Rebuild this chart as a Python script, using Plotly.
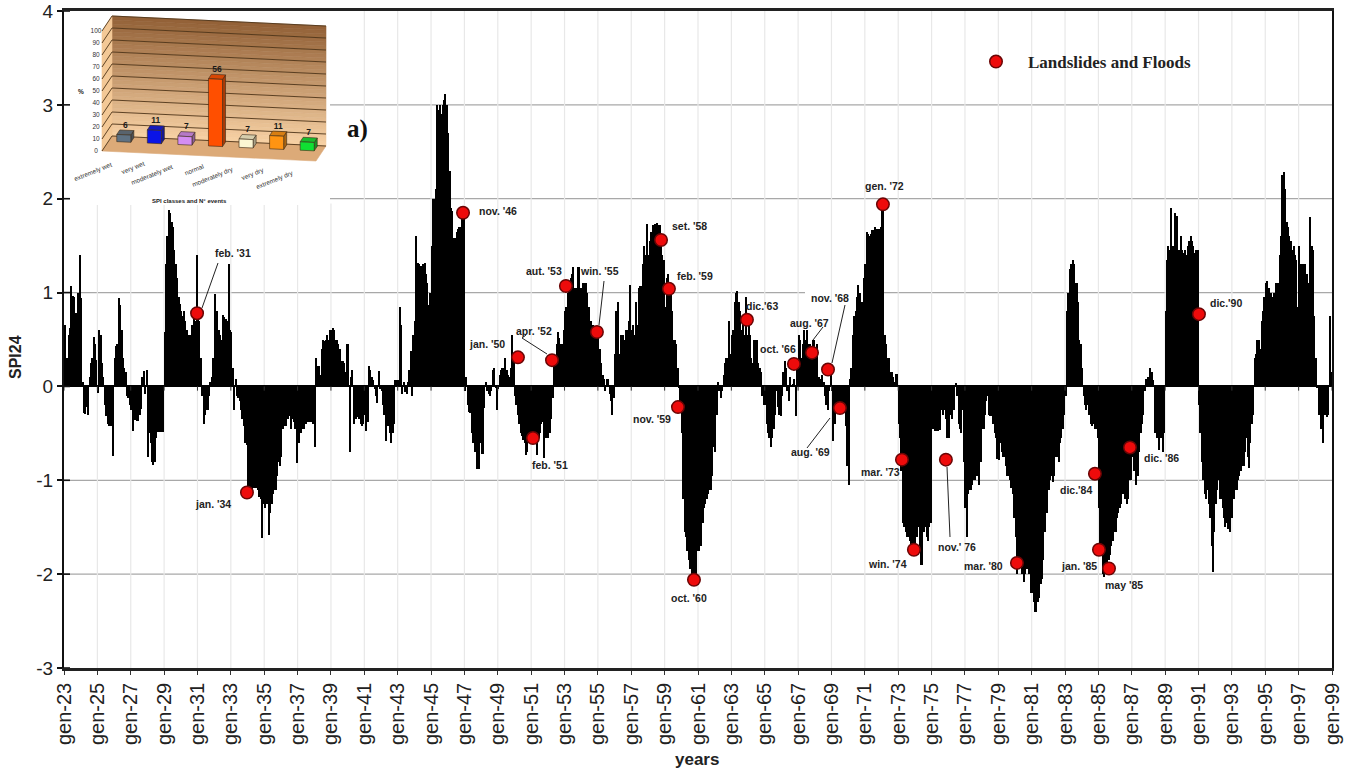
import plotly.graph_objects as go

# ---------- monthly SPI24 values ----------
spi_1923 = [.65,.18,.3,.55,.62,1.07,.96,.95,.78,.78,1.0,1.4]
spi_1924 = [.94,.05,-.28,-.29,-.22,-.3,.1,.25,.3,.53,.45,.28]
spi_1925 = [-.07,.6,.55,.25,.1,-.2,-.32,-.4,-.42,-.42,-.42,-.74]
spi_1926 = [.3,.43,.45,.94,.87,.6,.3,.2,.15,-.1,-.12,-.2]
spi_1927 = [-.25,-.47,-.33,-.36,-.37,-.37,-.3,-.24,.1,.16,-.08,.18]
spi_1928 = [-.75,-.5,-.6,-.8,-.84,-.8,-.55,-.49,-.49,-.49,-.49,-.49]
spi_1929 = [.58,1.3,1.6,1.88,1.85,1.75,1.7,1.45,1.3,1.15,.95,.88]
spi_1930 = [.8,.75,.8,.7,.6,.55,.55,.55,.65,.75,.7,1.4]
spi_1931 = [.75,.7,.3,-.1,-.4,-.3,-.25,-.25,-.1,.05,.1,.3]
spi_1932 = [.98,.8,.8,.6,.55,.5,.76,.74,.72,.7,1.3,.6]
spi_1933 = [.58,.2,-.25,.08,-.1,-.12,-.15,-.25,-.35,-.42,-.6,-.62]
spi_1934 = [-1.1,-1.14,-1.13,-1.1,-1.08,-1.08,-1.08,-1.1,-1.18,-1.2,-1.62,-1.25]
spi_1935 = [-1.3,-1.25,-1.25,-1.58,-1.35,-1.25,-1.15,-1.1,-1.1,-.95,-.8,-.85]
spi_1936 = [-.75,-.45,-.42,-.42,-.15,-.35,-.32,-.45,-.35,-.38,-.45,-.82]
spi_1937 = [-.6,-.6,-.5,-.45,-.45,-.4,-.4,-.38,-.38,-.38,-.38,-.4]
spi_1938 = [-.64,.3,.22,.22,.12,.4,.5,.48,.5,.55,.5,.6]
spi_1939 = [.6,.62,.6,.5,.5,.45,.4,.27,.27,.25,.15,.45]
spi_1940 = [.45,-.7,.1,.18,-.4,-.35,-.35,-.33,-.35,-.4,-.42,-.4]
spi_1941 = [-.3,-.47,-.38,.22,.18,.1,.07,-.03,-.1,-.18,.16,-.03]
spi_1942 = [-.05,-.2,-.3,-.58,-.4,-.42,-.5,-.6,-.5,-.4,.07,.07]
spi_1943 = [.07,.85,.65,-.08,.05,-.06,-.08,.05,.17,.38,-.1,.55]
spi_1944 = [.7,1.6,1.32,1.3,1.28,1.28,1.3,1.32,1.2,1.1,.87,1.0]
spi_1945 = [1.5,2.0,2.0,2.1,3.0,2.95,3.0,2.9,3.0,3.05,3.12,3.0]
spi_1946 = [2.7,2.3,1.9,1.87,1.58,1.58,1.65,1.68,1.7,1.7,1.85,1.8]
spi_1947 = [-.05,.1,-.2,-.27,-.28,-.5,-.6,-.7,-.55,-.88,-.88,-.6]
spi_1948 = [-.72,-.72,-.23,.05,-.05,-.08,-.1,-.05,.18,.2,-.02,-.25]
spi_1949 = [-.03,.12,.18,.2,.2,.3,.17,.12,.1,.2,.55,.35]
spi_1950 = [-.1,-.2,-.3,-.4,-.5,-.53,-.57,-.6,-.73,-.7,-.55,-.58]
spi_1951 = [-.55,-.58,-.56,-.6,-.73,-.55,-.5,-.4,-.38,-.76,-.55,-.55]
spi_1952 = [-.55,-.5,-.35,-.12,.28,.28,.45,.58,.52,.45,.45,.6]
spi_1953 = [.8,.85,1.0,1.06,1.15,1.2,1.27,1.05,1.05,1.27,1.27,1.05]
spi_1954 = [1.05,1.1,1.1,1.1,1.0,.85,.7,.7,.65,.6,.6,.58]
spi_1955 = [.55,.4,.25,.12,.08,-.05,.08,.08,-.08,-.15,-.3,-.12]
spi_1956 = [.35,.8,.9,.35,.55,.55,.55,.5,.6,.6,.7,1.08]
spi_1957 = [.6,.65,.55,.9,.65,1.05,1.07,1.07,1.3,1.5,1.4,1.73]
spi_1958 = [1.4,1.55,1.65,1.72,1.72,1.73,1.74,1.72,1.72,1.55,1.4,1.35]
spi_1959 = [.85,1.15,1.2,1.05,1.0,.8,.5,.5,.45,.2,-.02,-.22]
spi_1960 = [-.5,-1.2,-1.55,-1.6,-1.75,-1.85,-1.95,-2.0,-2.05,-2.06,-2.05,-1.75]
spi_1961 = [-1.75,-1.65,-1.7,-1.45,-1.3,-1.25,-1.2,-1.15,-1.1,-1.1,-.95,-.65]
spi_1962 = [-.7,-.3,.05,-.05,-.12,-.05,.12,.25,.3,.3,.7,.35]
spi_1963 = [.55,.6,.9,1.0,1.02,.9,.8,.6,.65,.55,.95,.55]
spi_1964 = [.7,.55,.3,.25,.5,.5,.5,.25,.2,.15,-.1,-.2]
spi_1965 = [-.2,-.4,-.5,-.55,-.65,-.55,-.45,-.3,-.05,-.22,-.3,-.32]
spi_1966 = [-.1,.15,.27,.2,-.05,-.15,.1,.02,.03,.08,-.32,.24]
spi_1967 = [.55,.5,.3,.45,.6,.5,.6,.45,.45,.35,.5,.5]
spi_1968 = [.35,.45,.1,.1,.08,.12,.05,-.1,-.2,-.25,-.05,.18]
spi_1969 = [-.05,-.58,-.4,-.2,-.2,-.22,-.22,-.22,-.22,-.25,-.42,-.85]
spi_1970 = [-1.05,.08,.2,.55,.75,.8,.95,1.08,1.0,.9,.9,1.15]
spi_1971 = [1.3,1.65,1.62,1.6,1.62,1.67,1.67,1.7,1.68,1.68,1.68,1.7]
spi_1972 = [1.95,1.95,.55,.45,.3,.3,.15,.15,.1,.05,.13,.13]
spi_1973 = [-.4,-.55,-.9,-1.45,-1.5,-1.55,-1.6,-1.6,-1.65,-1.7,-1.75,-1.75]
spi_1974 = [-1.75,-1.6,-1.5,-1.7,-1.9,-1.9,-1.55,-1.5,-1.6,-1.65,-1.5,-1.45]
spi_1975 = [-.2,-.45,-.47,-.47,-.47,-.43,-.46,-.25,-.3,-.25,-.35,-.55]
spi_1976 = [-.55,-.3,-.35,-.2,-.25,.04,-.1,-.4,-.45,-.5,-.25,-.8]
spi_1977 = [-1.3,-1.6,-1.15,-1.1,-1.1,-1.05,-1.0,-1.0,-.95,-.9,-1.05,-.8]
spi_1978 = [-.45,-.45,-.3,-.15,-.1,-.3,-.32,-.32,-.4,-.5,-.55,-.77]
spi_1979 = [-.78,-.6,-.7,-.75,-.75,-.85,-.95,-.95,-1.0,-1.08,-1.15,-1.4]
spi_1980 = [-1.6,-2.0,-1.9,-1.9,-1.9,-2.0,-2.08,-2.0,-1.95,-1.9,-2.0,-2.2]
spi_1981 = [-2.2,-2.3,-2.4,-2.4,-2.3,-2.25,-2.1,-2.05,-1.85,-1.55,-1.35,-1.35]
spi_1982 = [-1.1,-1.0,-.95,-1.02,-.95,-.75,-.75,-.8,-.6,-.55,-.45,-.3]
spi_1983 = [-.1,.8,1.0,1.25,1.3,1.35,1.3,1.1,1.1,.9,.5,.45]
spi_1984 = [.2,-.1,-.2,-.25,-.2,-.3,-.4,-.42,-.4,-.45,-.45,-.55]
spi_1985 = [-1.3,-1.75,-1.8,-2.0,-2.03,-1.97,-1.9,-1.85,-1.8,-1.7,-1.65,-1.55]
spi_1986 = [-1.55,-1.4,-1.35,-1.3,-1.25,-1.15,-1.0,-1.2,-1.25,-1.2,-1.0,-1.0]
spi_1987 = [-.75,-.9,-.9,-1.05,-.95,-.7,-.5,-.4,-.3,-.05,.08,.1]
spi_1988 = [.03,.2,.15,.07,-.5,-.45,-.55,-.68,-.4,-.55,-.7,-.5]
spi_1989 = [.8,1.35,1.5,1.45,1.9,1.5,1.45,1.85,1.82,1.45,1.45,1.6]
spi_1990 = [1.45,1.42,1.45,1.4,1.5,1.55,1.6,1.55,1.5,1.42,1.45,1.45]
spi_1991 = [-.2,-.5,-.8,-1.0,-1.15,-1.2,-1.1,-1.25,-1.4,-1.7,-1.98,-1.55]
spi_1992 = [-1.25,-1.1,-1.0,-1.2,-1.2,-1.3,-1.4,-1.5,-1.45,-1.52,-1.55,-1.3]
spi_1993 = [-1.4,-1.2,-1.1,-1.1,-1.0,-.95,-.9,-.85,-.85,-.7,-.55,-.75]
spi_1994 = [-.87,-.6,-.4,-.3,.3,.35,.5,.5,.4,.7,.8,.95]
spi_1995 = [1.1,1.12,1.05,.95,1.0,.95,1.0,1.1,1.05,1.1,1.4,1.6]
spi_1996 = [2.25,2.28,2.1,1.75,1.7,1.6,1.55,1.45,1.5,1.4,1.35,.85]
spi_1997 = [1.5,1.3,1.25,1.3,1.3,1.2,1.2,1.1,1.8,1.5,1.45,.75]
spi_1998 = [.3,-.02,-.3,-.3,-.45,-.6,-.3,-.3,-.33,-.3,.75,.15]

# ---------- flood events: label, month index since gen-23, SPI ----------
event_labels = ["feb. '31","jan. '34","nov. '46","jan. '50","feb. '51","apr. '52","aut. '53","win. '55",
                "set. '58","feb. '59","nov. '59","oct. '60","dic.'63","oct. '66","aug. '67","nov. '68",
                "aug. '69","gen. '72","mar. '73","win. '74","nov.' 76","mar. '80","dic.'84","jan. '85",
                "may '85","dic. '86","dic.'90"]
event_months = [95.7,131.6,287,326.5,337.3,351,361,383.3,429.4,435.1,441.6,453.1,491.2,525,538,549.5,
                558.1,589,602.7,611.3,634.3,685.4,741.5,744.4,751.6,766.7,816.3]
event_spi = [.78,-1.13,1.85,.31,-.55,.28,1.07,.58,1.56,1.04,-.22,-2.06,.71,.24,.36,.18,-.23,1.94,-.78,
             -1.74,-.78,-1.88,-.93,-1.74,-1.94,-.65,.77]

# ---------- inset chart ----------
inset_categories = ["extremely wet","very wet","moderately wet","normal","moderately dry","very dry","extremely dry"]
inset_values = [6,11,7,56,7,11,7]

# ---------- axis labels ----------
tick_years = list(range(23, 100, 2))
tick_labels = [f"gen-{y}" for y in tick_years]
y_ticks = [-3,-2,-1,0,1,2,3,4]
y_tick_labels = ["-3","-2","-1","0","1","2","3","4"]

# ---------- styles / layout ----------
inset_colors = ["#5f7283","#0a14e6","#d38df2","#ff4f00","#fbf6d2","#ff9412","#0fe033"]
label_offsets = [(36,-60),(-34,12),(35,-2),(-31,-13),(17,27),(-18,-29),(-22,-15),(3,-61),(28,-14),(26,-13),
                 (-26,12),(-5,18),(15,-14),(-16,-15),(-3,-30),(2,-72),(-29,44),(2,-18),(-21,12),(-26,14),
                 (11,87),(-33,3),(-19,16),(-20,16),(15,16),(32,11),(27,-11)]
leaders = [(202,308,218,263),(547,354,522,338),(522,338,526,335),(599,325,604,281),(813,340,823,327),
           (832,363,845,305),(830,418,807,448),(947,467,950,537)]
PL, PR, PT, PB = 64, 1332, 11, 668
SANS = "Liberation Sans"
SERIF = "Liberation Serif"

series = [globals()[f"spi_{y}"] for y in range(1923, 1999)]
values = [v for yr in series for v in yr]
months = [i + 0.5 for i in range(len(values))]
tick_pos = [(y - 23) * 12 for y in tick_years]


def fx(px):
    return (px - PL) / (PR - PL)


def fy(py):
    return (PB - py) / (PB - PT)


def px2m(px):
    return (px - PL) / (PR - PL) * 912


fig = go.Figure()
fig.add_trace(go.Bar(x=months, y=values, width=1, marker=dict(color="black", line_width=0),
                     showlegend=False, hoverinfo="skip"))
fig.add_trace(go.Scatter(x=event_months, y=event_spi, mode="markers", name="Landslides and Floods",
                         marker=dict(color="#ee0b0b", size=12.5, line=dict(color="#6a0505", width=1.5)),
                         text=event_labels, showlegend=True))

shapes = []
for v, start, end in [(3, 330, PR), (2, 330, PR), (1, PL, 805), (1, 883, PR), (-1, PL, PR), (-2, PL, PR)]:
    shapes.append(dict(type="line", layer="below", xref="x", yref="y", x0=px2m(start), x1=px2m(end), y0=v, y1=v,
                       line=dict(color="#a8a8a8", width=1.2)))
for m in tick_pos[1:-1]:
    top = 1.95 if m * 1268 / 912 + PL < 332 else 4
    shapes.append(dict(type="line", layer="below", xref="x", yref="y", x0=m, x1=m, y0=-3, y1=top,
                       line=dict(color="#e8e8e8", width=1.2)))
for m in tick_pos:
    shapes.append(dict(type="line", xref="x", yref="y", x0=m, x1=m, y0=0, y1=-0.045,
                       line=dict(color="#333", width=1)))
for v in y_ticks:
    shapes.append(dict(type="line", xref="paper", yref="y", x0=0, x1=fx(PL + 6), y0=v, y1=v,
                       line=dict(color="#111", width=1.6)))
for a, b, c, d in leaders:
    shapes.append(dict(type="line", xref="paper", yref="paper", x0=fx(a), y0=fy(b), x1=fx(c), y1=fy(d),
                       line=dict(color="#222", width=1)))

annotations = []
for lab, m, v, (dx, dy) in zip(event_labels, event_months, event_spi, label_offsets):
    annotations.append(dict(x=m, y=v, xref="x", yref="y", text=f"<b>{lab}</b>", showarrow=False,
                            xanchor="center", yanchor="middle",
                            xshift=dx, yshift=-dy, font=dict(family=SANS, size=10.5, color="#222")))
annotations.append(dict(x=fx(357), y=fy(129), xref="paper", yref="paper", text="<b>a)</b>", showarrow=False,
                        xanchor="center", yanchor="middle", font=dict(family=SERIF, size=25, color="#111")))
annotations.append(dict(x=fx(697), y=fy(759), xref="paper", yref="paper", text="<b>years</b>", showarrow=False,
                        xanchor="center", yanchor="middle", font=dict(family=SANS, size=17, color="#222")))
annotations.append(dict(x=fx(15), y=fy(357), xref="paper", yref="paper", text="<b>SPI24</b>", showarrow=False,
                        xanchor="center", yanchor="middle", textangle=-90, font=dict(family=SANS, size=16, color="#222")))


def proj(f, d, v):
    return 102 + f * 30.57 + d * 10, 151 + f * 10 / 7 - d * 15 - v * 1.2


def poly(points, color, line=None):
    xs = [p[0] for p in points] + [points[0][0]]
    ys = [p[1] for p in points] + [points[0][1]]
    fig.add_trace(go.Scatter(x=xs, y=ys, xaxis="x2", yaxis="y2", mode="lines", fill="toself", fillcolor=color,
                             line=dict(color=line or color, width=0.6), showlegend=False, hoverinfo="skip"))


def mix(a, b, t):
    return "#%02x%02x%02x" % tuple(round(a[i] + (b[i] - a[i]) * t) for i in range(3))


def rgb(col):
    return tuple(int(col[k:k + 2], 16) for k in (1, 3, 5))


dark, light = (146, 96, 54), (248, 210, 165)
wall_steps = 30
for i in range(wall_steps):
    v0, v1 = 100 * i / wall_steps, 100 * (i + 1) / wall_steps
    c = mix(light, dark, (i + 0.5) / wall_steps)
    poly([proj(0, 1, v0), proj(7, 1, v0), proj(7, 1, v1), proj(0, 1, v1)], c)
poly([proj(0, 0, 0), proj(0, 1, 0), proj(0, 1, 100), proj(0, 0, 100)], "#f3c896")
poly([proj(0, 0, 0), proj(7, 0, 0), proj(7, 1, 0), proj(0, 1, 0)], "#dcaa78")
for v in range(0, 101, 10):
    pts = [proj(0, 0, v), proj(0, 1, v), proj(7, 1, v)]
    fig.add_trace(go.Scatter(x=[p[0] for p in pts], y=[p[1] for p in pts], xaxis="x2", yaxis="y2", mode="lines",
                             line=dict(color="#4e3418", width=0.9), showlegend=False, hoverinfo="skip"))
label_x, label_y, label_t = [], [], []
for i, (val, col) in enumerate(zip(inset_values, inset_colors)):
    f0, f1 = i + 0.27, i + 0.73
    d0, d1 = 0.65, 0.95
    poly([proj(f1, d0, 0), proj(f1, d1, 0), proj(f1, d1, val), proj(f1, d0, val)], mix(rgb(col), (40, 30, 20), 0.4), "#3a2a18")
    poly([proj(f0, d0, val), proj(f1, d0, val), proj(f1, d1, val), proj(f0, d1, val)], mix(rgb(col), (60, 40, 20), 0.2), "#3a2a18")
    poly([proj(f0, d0, 0), proj(f1, d0, 0), proj(f1, d0, val), proj(f0, d0, val)], col, "#3a2a18")
    tx, ty = proj(i + 0.5, 0.8, val)
    label_x.append(tx)
    label_y.append(ty - 7)
    label_t.append(f"<b>{val}</b>")
fig.add_trace(go.Scatter(x=label_x, y=label_y, xaxis="x2", yaxis="y2", mode="text", text=label_t,
                         textfont=dict(family=SANS, size=8.5, color="#1a1a1a"), showlegend=False, hoverinfo="skip"))
tickpts = [proj(0, 0, v) for v in range(0, 101, 10)]
fig.add_trace(go.Scatter(x=[p[0] - 6 for p in tickpts], y=[p[1] for p in tickpts], xaxis="x2", yaxis="y2", mode="text",
                         text=[str(v) for v in range(0, 101, 10)],
                         textfont=dict(family=SANS, size=6.5, color="#333"), showlegend=False, hoverinfo="skip"))
inset_label_pos = [(93, 172), (133, 168), (152, 175), (194, 169), (213, 177), (253, 174), (275, 180)]
for name, (a, b) in zip(inset_categories, inset_label_pos):
    annotations.append(dict(x=a, y=b, xref="x2", yref="y2", text=name, showarrow=False, textangle=-22,
                            xanchor="center", yanchor="middle", font=dict(family=SANS, size=6.5, color="#333")))
annotations.append(dict(x=189, y=201, xref="x2", yref="y2", text="<b>SPI classes and N° events</b>", showarrow=False,
                        xanchor="center", yanchor="middle", font=dict(family=SANS, size=6, color="#222")))
annotations.append(dict(x=81, y=91, xref="x2", yref="y2", text="<b>%</b>", showarrow=False,
                        xanchor="center", yanchor="middle", font=dict(family=SANS, size=6.5, color="#222")))

fig.update_layout(
    width=1352, height=772, margin=dict(l=PL, r=1352 - PR, t=PT, b=772 - PB, pad=0, autoexpand=False),
    paper_bgcolor="white", plot_bgcolor="white", bargap=0, font=dict(family=SANS, color="#222"),
    shapes=shapes, annotations=annotations,
    legend=dict(x=fx(964), y=fy(44), xanchor="left", yanchor="top", bgcolor="rgba(0,0,0,0)", itemwidth=54,
                font=dict(family=SERIF, size=17, color="#222", weight="bold")),
    xaxis=dict(range=[0, 912], tickmode="array", tickvals=tick_pos, ticktext=tick_labels, tickangle=-90,
               tickfont=dict(family=SANS, size=20, color="#222"), ticks="outside", ticklen=4, tickcolor="#333",
               showgrid=False, zeroline=False, showline=True, linewidth=2.5, linecolor="#222", mirror=True,
               automargin=False),
    yaxis=dict(range=[-3, 4], tickmode="array", tickvals=y_ticks, ticktext=y_tick_labels,
               tickfont=dict(family=SANS, size=19, color="#222"),
               ticks="outside", ticklen=5, tickcolor="#111", tickwidth=1.6, showgrid=False, zeroline=True,
               zerolinecolor="black", zerolinewidth=2.2, showline=True, linewidth=2.2, linecolor="#111", mirror=True,
               automargin=False),
    xaxis2=dict(domain=[0, fx(330)], range=[64, 330], visible=False, anchor="y2"),
    yaxis2=dict(domain=[fy(205), fy(12)], range=[205, 12], visible=False, anchor="x2"),
)
fig.write_html("out.html", config=dict(displayModeBar=False),
               post_script="document.body.style.margin='0';document.body.style.overflow='hidden';")
